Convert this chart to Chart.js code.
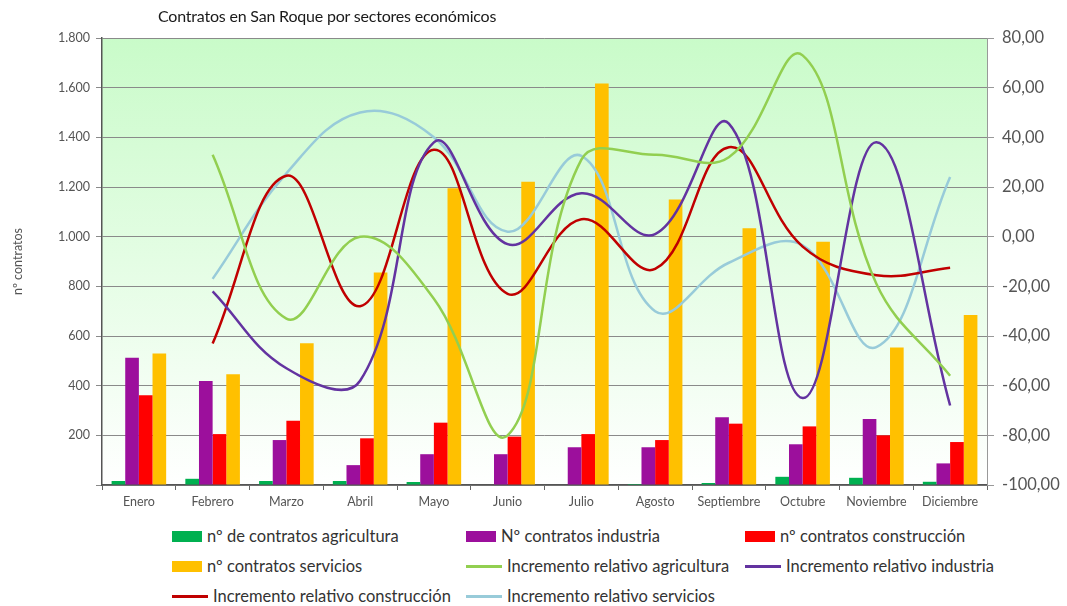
<!DOCTYPE html>
<html>
<head>
<meta charset="utf-8">
<script src="https://cdn.jsdelivr.net/npm/chart.js@4.4.1/dist/chart.umd.min.js"></script>
<style>
  body { margin: 0; background: #fff; }
  #wrap { position: relative; width: 1067px; height: 606px; background: #fff; font-family: Lato, "Open Sans", sans-serif; }
  #title { position: absolute; left: 158px; top: 6px; font-size: 16px; color: #1a1a1a; letter-spacing: -0.2px; }
  #chart { position: absolute; left: 0; top: 0; }
  .lg { position: absolute; font-size: 16.5px; color: #333; white-space: nowrap; display: flex; align-items: center; }
  .lg i { display: inline-block; margin-right: 5px; }
</style>
</head>
<body>
<div id="wrap">
  <canvas id="chart" width="1067" height="520"></canvas>
  <div id="title">Contratos en San Roque por sectores económicos</div>
  <div id="legend"></div>
</div>
<script>
// ── Data ─────────────────────────────────────────────────────────────────────
const MONTHS = ["Enero", "Febrero", "Marzo", "Abril", "Mayo", "Junio", "Julio", "Agosto", "Septiembre", "Octubre", "Noviembre", "Diciembre"];

const agricultura  = [16, 25, 16, 16, 12, 0, 0, 4, 8, 33, 29, 13];
const industria    = [512, 419, 181, 80, 124, 124, 152, 152, 273, 164, 266, 87];
const construccion = [361, 205, 259, 188, 251, 195, 205, 181, 247, 236, 200, 173];
const servicios    = [530, 446, 571, 856, 1195, 1221, 1617, 1150, 1034, 980, 554, 685];

const incAgricultura  = [null, 33, -33, 0, -25, -80, 31, 33, 32, 73, -19, -56];
const incIndustria    = [null, -22, -53, -58, 38, -3, 17.5, 1, 45.5, -65, 38, -68];
const incConstruccion = [null, -43, 24.5, -28, 35, -23, 7, -13, 36, -4, -15.5, -12.5];
const incServicios    = [null, -17, 25.5, 50, 40, 2, 32.5, -30, -10.5, -3.5, -44.5, 24];

const LEFT_TICKS  = { min: 0, max: 1800, step: 200 };
const RIGHT_TICKS = { min: -100, max: 80, step: 20 };

// ── Series definitions ───────────────────────────────────────────────────────
const SERIES = [
  { label: "nº de contratos agricultura", data: agricultura, color: "#00B050", kind: "bar" },
  { label: "Nº contratos industria", data: industria, color: "#9C0F9C", kind: "bar" },
  { label: "nº contratos construcción", data: construccion, color: "#FF0000", kind: "bar" },
  { label: "nº contratos servicios", data: servicios, color: "#FFC000", kind: "bar" },
  { label: "Incremento relativo agricultura", data: incAgricultura, color: "#92CF50", kind: "line" },
  { label: "Incremento relativo industria", data: incIndustria, color: "#6333A0", kind: "line" },
  { label: "Incremento relativo construcción", data: incConstruccion, color: "#C00000", kind: "line" },
  { label: "Incremento relativo servicios", data: incServicios, color: "#98CBD9", kind: "line" }
];

const thousands = v => String(v).replace(/\B(?=(\d{3})+(?!\d))/g, ".");

// green-to-white plot background
const plotBg = {
  id: "plotBg",
  beforeDraw(chart) {
    const { ctx, chartArea: a } = chart;
    const g = ctx.createLinearGradient(0, a.top, 0, a.bottom);
    g.addColorStop(0, "#C9FBC9");
    g.addColorStop(1, "#FFFFFF");
    ctx.save();
    ctx.fillStyle = g;
    ctx.fillRect(a.left, a.top, a.right - a.left, a.bottom - a.top);
    ctx.restore();
  }
};

const datasets = SERIES.map(s => s.kind === "bar"
  ? { type: "bar", label: s.label, data: s.data, backgroundColor: s.color, yAxisID: "y",
      categoryPercentage: 0.74, barPercentage: 1.0, order: 1 }
  : { type: "line", label: s.label, data: s.data, borderColor: s.color, backgroundColor: s.color,
      yAxisID: "y1", tension: 0.4, pointRadius: 0, borderWidth: 2.5, fill: false, order: 0 });

Chart.defaults.font.family = "Lato, 'Open Sans', sans-serif";
Chart.defaults.color = "#595959";

new Chart(document.getElementById("chart"), {
  data: { labels: MONTHS, datasets },
  plugins: [plotBg],
  options: {
    responsive: false, animation: false,
    layout: { padding: { top: 38, left: 0, right: 0, bottom: 0 } },
    plugins: { legend: { display: false }, tooltip: { enabled: false } },
    scales: {
      x: {
        afterFit: s => { s.height = 35; },
        grid: { offset: true, drawOnChartArea: false, tickLength: 5, color: "#666" },
        border: { color: "#555", width: 1.5 },
        ticks: { font: { size: 12.5 }, color: "#555", padding: 4, maxRotation: 0, autoSkip: false }
      },
      y: {
        position: "left", min: LEFT_TICKS.min, max: LEFT_TICKS.max,
        afterFit: s => { s.width = 102; },
        grid: { color: "#8a8a8a", tickLength: 6 },
        border: { color: "#555", width: 1.5 },
        ticks: { stepSize: LEFT_TICKS.step, padding: 6, font: { size: 12.5 }, color: "#555",
                 callback: v => v === 0 ? "" : thousands(v) },
        title: { display: true, text: "nº contratos", font: { size: 12.5 }, color: "#555", padding: { top: 10, bottom: 0 } }
      },
      y1: {
        position: "right", min: RIGHT_TICKS.min, max: RIGHT_TICKS.max,
        afterFit: s => { s.width = 80; },
        grid: { drawOnChartArea: false, tickLength: 7, color: "#999" },
        border: { color: "#999" },
        ticks: { stepSize: RIGHT_TICKS.step, padding: 8, font: { size: 16.5 }, color: "#555",
                 callback: v => v.toFixed(2).replace(".", ",") }
      }
    }
  }
});

// ── HTML legend, three columns ───────────────────────────────────────────────
const COL_X = [172, 466, 745];
const ROW_Y = [526, 556, 586];
const legend = document.getElementById("legend");
SERIES.forEach((s, i) => {
  const item = document.createElement("div");
  item.className = "lg";
  item.style.left = COL_X[i % 3] + "px";
  item.style.top = ROW_Y[Math.floor(i / 3)] + "px";
  const sw = document.createElement("i");
  if (s.kind === "bar") { sw.style.width = "30px"; sw.style.height = "11px"; }
  else { sw.style.width = "36px"; sw.style.height = "3px"; }
  sw.style.background = s.color;
  item.appendChild(sw);
  item.appendChild(document.createTextNode(s.label));
  legend.appendChild(item);
});
</script>
</body>
</html>
